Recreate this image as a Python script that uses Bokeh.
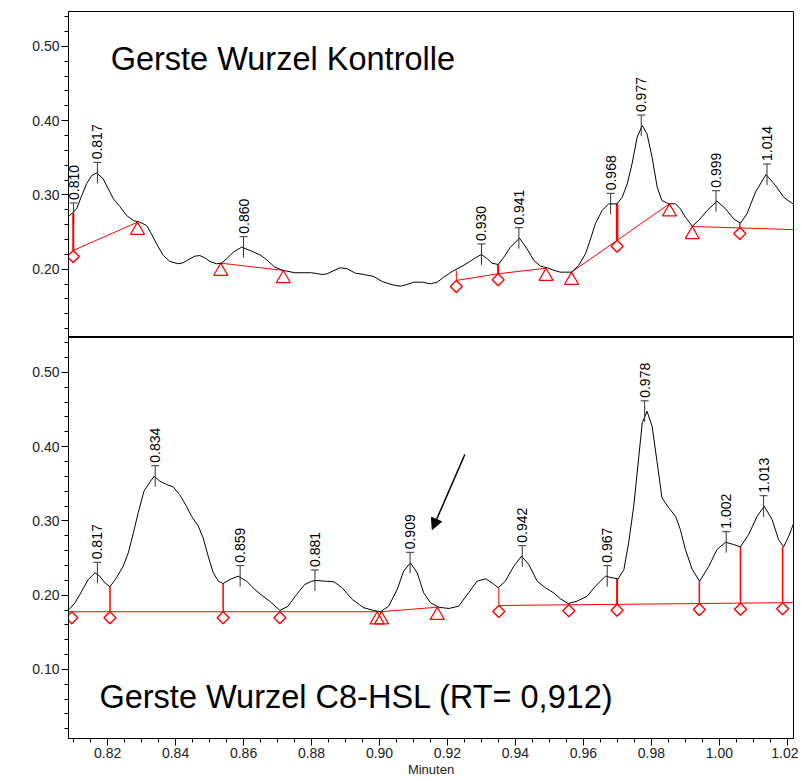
import numpy as np
from bokeh.plotting import figure
from bokeh.layouts import column
from bokeh.models import (SingleIntervalTicker, NumeralTickFormatter, Label,
                          Arrow, NormalHead, Range1d)
from bokeh.embed import file_html
from bokeh.resources import INLINE
from bokeh.core.properties import value

# ---------------- data ----------------
# Top chromatogram: Gerste Wurzel Kontrolle
top_x = [0.8085, 0.8109, 0.8124, 0.8138, 0.8153, 0.8168, 0.8187, 0.8202, 0.8217, 0.8236,
         0.8256, 0.8276, 0.8295, 0.8315, 0.8329, 0.8344, 0.8364, 0.8383, 0.8408, 0.8422,
         0.8442, 0.8457, 0.8471, 0.8486, 0.8501, 0.8520, 0.8535, 0.8550, 0.8570, 0.8594,
         0.8619, 0.8648, 0.8668, 0.8692, 0.8717, 0.8751, 0.8800, 0.8831, 0.8846, 0.8866,
         0.8885, 0.8905, 0.8929, 0.8954, 0.8983, 0.9008, 0.9037, 0.9062, 0.9081, 0.9101,
         0.9126, 0.9150, 0.9170, 0.9189, 0.9214, 0.9238, 0.9263, 0.9282, 0.9300, 0.9317,
         0.9331, 0.9349, 0.9366, 0.9385, 0.9412, 0.9434, 0.9454, 0.9474, 0.9498, 0.9508,
         0.9532, 0.9565, 0.9586, 0.9606, 0.9621, 0.9635, 0.9655, 0.9674, 0.9699, 0.9714,
         0.9729, 0.9743, 0.9758, 0.9773, 0.9787, 0.9802, 0.9817, 0.9831, 0.9851, 0.9871,
         0.9885, 0.9900, 0.9920, 0.9939, 0.9964, 0.9993, 1.0018, 1.0042, 1.0062, 1.0081,
         1.0106, 1.0137, 1.0165, 1.0189, 1.0219]
top_y = [0.2709, 0.2813, 0.2992, 0.3149, 0.3261, 0.3297, 0.3217, 0.3082, 0.2948, 0.2844,
         0.2723, 0.2655, 0.2633, 0.2588, 0.2476, 0.2342, 0.2184, 0.2104, 0.2073, 0.2086,
         0.2140, 0.2175, 0.2184, 0.2153, 0.2104, 0.2073, 0.2081, 0.2140, 0.2229, 0.2296,
         0.2252, 0.2194, 0.2127, 0.2027, 0.1983, 0.1952, 0.1952, 0.1929, 0.1938, 0.1983,
         0.2019, 0.2005, 0.1946, 0.1929, 0.1902, 0.1834, 0.1790, 0.1771, 0.1794, 0.1825,
         0.1825, 0.1803, 0.1825, 0.1892, 0.1969, 0.2027, 0.2094, 0.2153, 0.2198, 0.2140,
         0.2081, 0.2063, 0.2162, 0.2296, 0.2417, 0.2275, 0.2117, 0.2040, 0.2013, 0.1992,
         0.1960, 0.1960, 0.2050, 0.2207, 0.2409, 0.2611, 0.2790, 0.2880, 0.2880, 0.2969,
         0.3149, 0.3419, 0.3777, 0.3934, 0.3822, 0.3507, 0.3104, 0.2925, 0.2880, 0.2880,
         0.2813, 0.2700, 0.2579, 0.2655, 0.2790, 0.2915, 0.2813, 0.2678, 0.2619, 0.2746,
         0.3036, 0.3275, 0.3127, 0.2969, 0.2871]

top_peak_rt = [0.810, 0.817, 0.860, 0.930, 0.941, 0.968, 0.977, 0.999, 1.014]
top_peak_label = ["0.810", "0.817", "0.860", "0.930", "0.941", "0.968", "0.977", "0.999", "1.014"]
top_peak_h = [0.2750, 0.3297, 0.2296, 0.2198, 0.2417, 0.2880, 0.3934, 0.2915, 0.3275]

top_base_x = [[0.8099, 0.8288], [0.8533, 0.8717], [0.9226, 0.9349, 0.9490],
              [0.9565, 0.9853], [0.9920, 1.0219]]
top_base_y = [[0.2252, 0.2633], [0.2081, 0.1983], [0.1848, 0.1938, 0.2013],
              [0.1960, 0.2880], [0.2575, 0.2533]]
top_tri_x = [0.8288, 0.8533, 0.8717, 0.9490, 0.9565, 0.9853, 0.9920]
top_tri_y = [0.2633, 0.2081, 0.1983, 0.2013, 0.1960, 0.2880, 0.2575]
top_dia_x = [0.8099, 0.9226, 0.9349, 0.9699, 1.0060]
top_dia_y = [0.2252, 0.1848, 0.1938, 0.2389, 0.2560]
top_drop_x = [0.8099, 0.9226, 0.9349, 0.9699, 1.0060]
top_drop_top = [0.2750, 0.1983, 0.2063, 0.2880, 0.2619]
top_drop_w = [2, 1, 2, 2.5, 1.5]

# Bottom chromatogram: Gerste Wurzel C8-HSL
bot_x = [0.8087, 0.8104, 0.8124, 0.8143, 0.8163, 0.8177, 0.8192, 0.8207, 0.8226, 0.8246,
         0.8261, 0.8276, 0.8290, 0.8307, 0.8323, 0.8337, 0.8354, 0.8374, 0.8393, 0.8412,
         0.8432, 0.8447, 0.8467, 0.8481, 0.8496, 0.8511, 0.8526, 0.8540, 0.8560, 0.8584,
         0.8609, 0.8633, 0.8657, 0.8677, 0.8707, 0.8731, 0.8756, 0.8780, 0.8800, 0.8812,
         0.8841, 0.8866, 0.8890, 0.8920, 0.8954, 0.8983, 0.9003, 0.9027, 0.9052, 0.9071,
         0.9091, 0.9111, 0.9130, 0.9150, 0.9174, 0.9204, 0.9233, 0.9262, 0.9287, 0.9312,
         0.9331, 0.9349, 0.9370, 0.9395, 0.9418, 0.9439, 0.9464, 0.9488, 0.9512, 0.9532,
         0.9555, 0.9581, 0.9611, 0.9635, 0.9665, 0.9684, 0.9702, 0.9719, 0.9733, 0.9748,
         0.9761, 0.9773, 0.9787, 0.9802, 0.9817, 0.9831, 0.9851, 0.9871, 0.9885, 0.9900,
         0.9920, 0.9942, 0.9969, 0.9993, 1.0018, 1.0042, 1.0062, 1.0086, 1.0111, 1.0132,
         1.0155, 1.0174, 1.0189, 1.0204, 1.0219]
bot_y = [0.1808, 0.1898, 0.2054, 0.2211, 0.2301, 0.2256, 0.2167, 0.2113, 0.2234, 0.2390,
         0.2571, 0.2840, 0.3109, 0.3400, 0.3513, 0.3602, 0.3534, 0.3490, 0.3459, 0.3355,
         0.3198, 0.3063, 0.2929, 0.2773, 0.2525, 0.2301, 0.2188, 0.2157, 0.2211, 0.2256,
         0.2188, 0.2077, 0.1987, 0.1919, 0.1794, 0.1852, 0.2009, 0.2144, 0.2188, 0.2198,
         0.2188, 0.2180, 0.2100, 0.1942, 0.1830, 0.1794, 0.1777, 0.1852, 0.2077, 0.2323,
         0.2436, 0.2301, 0.2032, 0.1898, 0.1838, 0.1821, 0.1852, 0.2032, 0.2188, 0.2221,
         0.2167, 0.2100, 0.2188, 0.2390, 0.2525, 0.2413, 0.2188, 0.2100, 0.2032, 0.1952,
         0.1888, 0.1919, 0.1987, 0.2121, 0.2256, 0.2234, 0.2221, 0.2346, 0.2705, 0.3198,
         0.3782, 0.4320, 0.4476, 0.4275, 0.3782, 0.3311, 0.3176, 0.3063, 0.2884, 0.2615,
         0.2346, 0.2188, 0.2390, 0.2615, 0.2713, 0.2682, 0.2651, 0.2817, 0.3063, 0.3198,
         0.3019, 0.2750, 0.2651, 0.2794, 0.2974]

bot_peak_rt = [0.817, 0.834, 0.859, 0.881, 0.909, 0.942, 0.967, 0.978, 1.002, 1.013]
bot_peak_label = ["0.817", "0.834", "0.859", "0.881", "0.909", "0.942", "0.967", "0.978", "1.002", "1.013"]
bot_peak_h = [0.2301, 0.3602, 0.2256, 0.2198, 0.2436, 0.2525, 0.2256, 0.4476, 0.2713, 0.3198]

bot_base_x = [[0.8085, 0.9003], [0.9003, 0.9170], [0.9351, 1.0219]]
bot_base_y = [[0.1777, 0.1777], [0.1777, 0.1838], [0.1861, 0.1900]]
bot_tri_x = [0.8993, 0.9006, 0.9170]
bot_tri_y = [0.1777, 0.1777, 0.1838]
bot_dia_x = [0.8095, 0.8207, 0.8540, 0.8707, 0.9351, 0.9557, 0.9699, 0.9941, 1.0062, 1.0186]
bot_dia_y = [0.1777, 0.1777, 0.1777, 0.1777, 0.1861, 0.1871, 0.1879, 0.1888, 0.1892, 0.1898]
bot_drop_x = [0.8207, 0.8540, 0.9351, 0.9699, 0.9941, 1.0062, 1.0186]
bot_drop_top = [0.2113, 0.2157, 0.2100, 0.2221, 0.2188, 0.2651, 0.2651]
bot_drop_base = [0.1777, 0.1777, 0.1861, 0.1879, 0.1888, 0.1892, 0.1898]
bot_drop_w = [1.5, 1.5, 1, 2, 1.5, 1.5, 1.5]

top_drop_base = top_dia_y

x_lim = (0.8085, 1.0218)
top_ylim = (0.108, 0.547)
bot_ylim = (0.007, 0.547)

FONT = "Liberation Sans"
RED = "#ff0000"
FRAME_W = 725
TOP_H = 326
BOT_H = 401


def style_axes(p, with_x):
    for ax in p.yaxis:
        ax.ticker = SingleIntervalTicker(interval=0.1, num_minor_ticks=5)
        ax.formatter = NumeralTickFormatter(format="0.00")
    axes = list(p.yaxis) + (list(p.xaxis) if with_x else [])
    for ax in axes:
        ax.axis_line_color = "black"
        ax.major_tick_line_color = "black"
        ax.minor_tick_line_color = "black"
        ax.major_tick_in = 0
        ax.minor_tick_in = 0
        ax.major_tick_out = 7
        ax.minor_tick_out = 4
        ax.major_label_text_font = FONT
        ax.major_label_text_font_size = "14px"
        ax.major_label_text_color = "#222222"
        ax.major_label_standoff = 2
    p.xgrid.visible = False
    p.ygrid.visible = False
    p.outline_line_color = "black"
    p.outline_line_width = 1
    p.background_fill_color = "white"
    p.border_fill_color = "white"


def add_content(p, xs, ys, ppu, peak_rt, peak_lbl, peak_h,
                base_x, base_y, tri_x, tri_y, dia_x, dia_y,
                drop_x, drop_top, drop_base, drop_w):
    # baselines
    p.multi_line(base_x, base_y, line_color=RED, line_width=1)
    for dx, dt, db, dw in zip(drop_x, drop_top, drop_base, drop_w):
        p.segment(x0=[dx], y0=[dt], x1=[dx], y1=[db], line_color=RED, line_width=dw)
    # markers hanging below the baseline points
    tri_size = 14
    tri_off = (tri_size / 2) * np.sqrt(3) * 2 / 3
    p.scatter(tri_x, [v - tri_off / ppu for v in tri_y], marker="triangle", size=tri_size,
              fill_color=None, line_color=RED, line_width=1.2)
    dia_size = 8.5
    dia_off = dia_size / np.sqrt(2)
    p.scatter(dia_x, [v - dia_off / ppu for v in dia_y], marker="square", angle=np.pi / 4,
              size=dia_size, fill_color=None, line_color=RED, line_width=1.4)
    # trace
    p.line(xs, ys, line_color="black", line_width=1)
    # peak ticks
    t = 10.5 / ppu
    p.segment(x0=peak_rt, y0=[h - t for h in peak_h], x1=peak_rt, y1=[h + t for h in peak_h],
              line_color="#333333", line_width=1)
    p.scatter(peak_rt, [h + t for h in peak_h], marker="dash", size=8,
              line_color="#333333", line_width=1)
    p.text(x=peak_rt, y=[h + t + 3 / ppu for h in peak_h], text=peak_lbl, angle=np.pi / 2,
           text_align="left", text_baseline="middle", text_font=value(FONT),
           text_font_size="14px", text_color="black")


# ---------------- top figure ----------------
top = figure(frame_width=FRAME_W, frame_height=TOP_H, output_backend="svg",
             toolbar_location=None, x_axis_location=None,
             x_range=Range1d(*x_lim), y_range=Range1d(*top_ylim),
             min_border_left=68, min_border_right=5, min_border_top=11, min_border_bottom=0)
style_axes(top, False)
ppu_top = TOP_H / (top_ylim[1] - top_ylim[0])
add_content(top, top_x, top_y, ppu_top, top_peak_rt, top_peak_label, top_peak_h,
            top_base_x, top_base_y, top_tri_x, top_tri_y, top_dia_x, top_dia_y,
            top_drop_x, top_drop_top, top_drop_base, top_drop_w)
top.add_layout(Label(x=0.8209, y=0.4828, text="Gerste Wurzel Kontrolle",
                     text_font=FONT, text_font_size="32.5px", text_color="black",
                     text_align="left", text_baseline="alphabetic"))
top.add_layout(Label(x=0.7935, y=0.278, text="AU", angle=np.pi / 2,
                     text_font=FONT, text_font_size="12px", text_color="black",
                     text_align="center", text_baseline="middle"))

# ---------------- bottom figure ----------------
bot = figure(frame_width=FRAME_W, frame_height=BOT_H, output_backend="svg",
             toolbar_location=None,
             x_range=Range1d(*x_lim), y_range=Range1d(*bot_ylim),
             min_border_left=68, min_border_right=5, min_border_top=0, min_border_bottom=0)
style_axes(bot, True)
bot.xaxis.ticker = SingleIntervalTicker(interval=0.02, num_minor_ticks=4)
bot.xaxis.formatter = NumeralTickFormatter(format="0.00")
bot.xaxis.axis_label = "Minuten"
bot.xaxis.axis_label_text_font = FONT
bot.xaxis.axis_label_text_font_size = "13px"
bot.xaxis.axis_label_text_font_style = "normal"
bot.xaxis.axis_label_text_color = "#222222"
bot.xaxis.axis_label_standoff = 1
ppu_bot = BOT_H / (bot_ylim[1] - bot_ylim[0])
add_content(bot, bot_x, bot_y, ppu_bot, bot_peak_rt, bot_peak_label, bot_peak_h,
            bot_base_x, bot_base_y, bot_tri_x, bot_tri_y, bot_dia_x, bot_dia_y,
            bot_drop_x, bot_drop_top, bot_drop_base, bot_drop_w)
bot.add_layout(Arrow(end=NormalHead(size=11, fill_color="black", line_color="black", line_width=1),
                     x_start=0.9251, y_start=0.3894, x_end=0.9155, y_end=0.2884,
                     line_color="black", line_width=1.5))
bot.add_layout(Label(x=0.8176, y=0.0629, text="Gerste Wurzel C8-HSL (RT= 0,912)",
                     text_font=FONT, text_font_size="32.5px", text_color="black",
                     text_align="left", text_baseline="alphabetic"))
bot.add_layout(Label(x=0.7935, y=0.278, text="AU", angle=np.pi / 2,
                     text_font=FONT, text_font_size="12px", text_color="black",
                     text_align="center", text_baseline="middle"))

layout = column(top, bot, spacing=0)
open("out.html", "w").write(file_html(layout, INLINE))
